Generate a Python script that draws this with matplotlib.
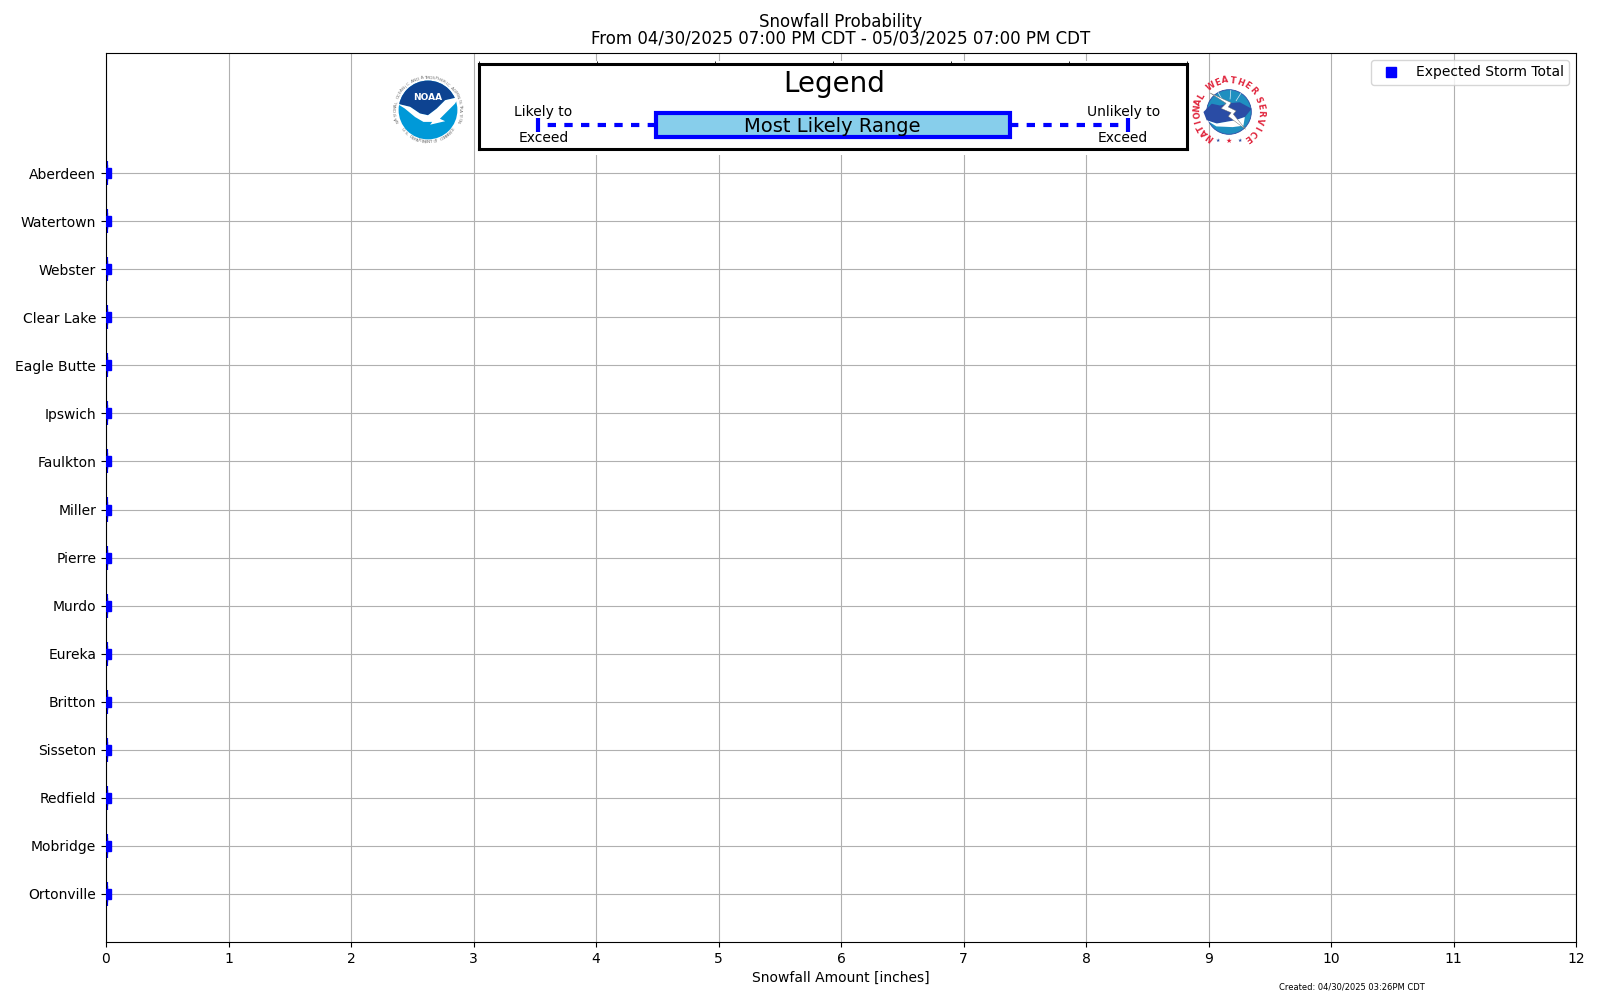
import numpy as np
import matplotlib
matplotlib.use("Agg")
import matplotlib.pyplot as plt
from matplotlib.patches import Circle, Rectangle, Polygon

# sites, bottom of the chart first
sites = ["Ortonville", "Mobridge", "Redfield", "Sisseton", "Britton", "Eureka",
         "Murdo", "Pierre", "Miller", "Faulkton", "Ipswich", "Eagle Butte",
         "Clear Lake", "Webster", "Watertown", "Aberdeen"]
# all forecast percentiles are zero for this event
low_exceed = [0.0] * 16
q_low = [0.0] * 16
expected = [0.0] * 16
q_high = [0.0] * 16
high_exceed = [0.0] * 16
x_ticks = list(range(13))

BLUE = "#0000ff"
SKY = "#87ceeb"
RED = "#e0243c"

W, H = 1600, 1000


def fig_axes(x0, y0, x1, y1, **kw):
    # pixel box (from top left) to a figure axes
    return fig.add_axes([x0 / W, 1 - y1 / H, (x1 - x0) / W, (y1 - y0) / H], **kw)


def ring_text(a, text, radius, start, stop, turn=-90, **kw):
    # letters placed one by one round a circle
    for ch, ang in zip(text, np.linspace(start, stop, len(text))):
        a.text(radius * np.cos(np.radians(ang)), radius * np.sin(np.radians(ang)), ch,
               rotation=ang + turn, ha="center", va="center", **kw)


fig = plt.figure(figsize=(16, 10), dpi=100)
ax = fig_axes(106, 53, 1576, 942)

pos = np.arange(1, len(sites) + 1)
stats = [dict(med=e, q1=a, q3=b, whislo=l, whishi=h, fliers=[], label=s)
         for e, a, b, l, h, s in zip(expected, q_low, q_high, low_exceed, high_exceed, sites)]
ax.bxp(stats, positions=pos, orientation="horizontal", widths=0.5, showfliers=False,
       patch_artist=True, showcaps=True,
       boxprops=dict(facecolor=SKY, edgecolor=BLUE, linewidth=3),
       medianprops=dict(color=BLUE, linewidth=0),
       whiskerprops=dict(color=BLUE, linewidth=3, linestyle="--"),
       capprops=dict(color=BLUE, linewidth=3))
ax.plot(expected, pos, ls="none", marker="s", ms=7.5, color=BLUE, label="Expected Storm Total", zorder=5)

ax.set_xlim(0, 12)
ax.set_ylim(0, 18.5)
ax.set_xticks(x_ticks)
ax.set_xticklabels([str(t) for t in x_ticks])
ax.set_yticks(pos)
ax.set_yticklabels(sites)
ax.grid(True, color="#b0b0b0", lw=0.8)
ax.set_axisbelow(True)
ax.tick_params(labelsize=10)
ax.set_xlabel("Snowfall Amount [inches]", fontsize=10)
ax.set_title("Snowfall Probability\nFrom 04/30/2025 07:00 PM CDT - 05/03/2025 07:00 PM CDT",
             fontsize=12, linespacing=0.93, pad=6.5)
handles, labels = ax.get_legend_handles_labels()
ax.legend(handles[-1:], labels[-1:], loc="upper right", fontsize=10)

fig.text(1352 / W, 1 - 987 / H, "Created: 04/30/2025 03:26PM CDT", fontsize=6, ha="center", va="center")

# white panel that hides the gridlines behind the legend key
fig.add_artist(Rectangle((479 / W, 1 - 155 / H), 708 / W, 94 / H, transform=fig.transFigure,
                         facecolor="white", edgecolor="none", zorder=3))

key = fig_axes(479, 64, 1187, 149, zorder=4)
key.set_xlim(0, 6)
key.set_ylim(0, 1)
key.set_yticks([])
key.set_xticks(range(7))
key.tick_params(axis="x", top=True, bottom=False, labelbottom=False, length=2.5, width=0.6, pad=0)
for s in key.spines.values():
    s.set_linewidth(2.2)
key.text(3.01, 0.77, "Legend", fontsize=20, ha="center", va="center")
key.add_patch(Rectangle((1.5, 0.14), 3.0, 0.28, facecolor=SKY, edgecolor=BLUE, lw=3, zorder=3))
key.text(2.99, 0.265, "Most Likely Range", fontsize=14, ha="center", va="center", zorder=4)
key.plot([1.5, 0.5], [0.28, 0.28], color=BLUE, lw=3, ls=(0, (2, 2)))
key.plot([4.5, 5.5], [0.28, 0.28], color=BLUE, lw=3, ls=(0, (2, 2)))
key.plot([0.5, 0.5], [0.2, 0.365], color=BLUE, lw=3, solid_capstyle="butt")
key.plot([5.5, 5.5], [0.2, 0.365], color=BLUE, lw=3, solid_capstyle="butt")
key.text(0.546, 0.43, "Likely to", fontsize=10, ha="center", va="center")
key.text(0.546, 0.13, "Exceed", fontsize=10, ha="center", va="center")
key.text(5.46, 0.43, "Unlikely to", fontsize=10, ha="center", va="center")
key.text(5.455, 0.13, "Exceed", fontsize=10, ha="center", va="center")

# NOAA logo
noaa = fig_axes(393, 75, 463, 145, zorder=4)
noaa.set_xlim(-1, 1)
noaa.set_ylim(-1, 1)
noaa.axis("off")
ring_text(noaa, "NATIONAL OCEANIC AND ATMOSPHERIC ADMINISTRATION", 0.92, 200, -20,
          color="#777777", fontsize=3.2)
ring_text(noaa, "U.S. DEPARTMENT OF COMMERCE", 0.92, 217, 323, turn=90, color="#777777", fontsize=3.2)
disc = Circle((0, 0), 0.84, facecolor="#0099d8", edgecolor="none")
noaa.add_patch(disc)
navy = Polygon([(-0.9, 0.9), (0.9, 0.9), (0.9, 0.37), (0.49, 0.28), (0.25, 0.04), (0, -0.15), (-0.23, -0.1),
                (-0.51, 0.09), (-0.9, 0.18)], facecolor="#0d4391", edgecolor="none")
noaa.add_patch(navy)
navy.set_clip_path(disc)
wing = Polygon([(-0.88, 0.18), (-0.51, 0.09), (-0.23, -0.1), (0, -0.15), (0.25, 0.04), (0.49, 0.28), (0.88, 0.37),
                (0.77, 0.18), (0.58, -0.01), (0.34, -0.25), (0.49, -0.32), (0.06, -0.42), (0.12, -0.34),
                (-0.13, -0.34), (-0.37, -0.2), (-0.66, 0.04)], facecolor="white", edgecolor="none")
noaa.add_patch(wing)
noaa.text(0, 0.36, "NOAA", color="white", fontsize=6.5, fontweight="bold", ha="center", va="center")

# NWS logo
nws = fig_axes(1193, 76, 1265, 148, zorder=4)
nws.set_xlim(-1, 1)
nws.set_ylim(-1, 1)
nws.axis("off")
dome = Circle((0, 0), 0.62, facecolor="#1f8fc0", edgecolor="#2a4ca5", lw=0.6)
nws.add_patch(dome)
for x_end, y_end in zip([-0.3, 0.05, 0.33], [0.54, 0.6, 0.52]):
    nws.plot([x_end * 0.6, x_end], [y_end * 0.6, y_end], color="#dfeef6", lw=0.5)
nws.add_patch(Polygon([(-0.71, 0.0), (-0.48, 0.23), (-0.25, 0.18), (0.05, 0.25), (0.3, 0.27), (0.63, 0.09),
                       (0.44, -0.14), (0.17, -0.23), (-0.34, -0.32), (-0.62, -0.23)],
                      facecolor="#2a4ca5", edgecolor="none", zorder=3))
snow = Polygon([(-0.62, -0.23), (-0.34, -0.32), (0.17, -0.23), (0.44, -0.14), (0.4, -0.38), (0.1, -0.42), (-0.35, -0.4)],
               facecolor="white", edgecolor="none", zorder=3)
nws.add_patch(snow)
nws.add_patch(Polygon([(-0.53, 0.53), (-0.08, 0.24), (-0.22, 0.1), (0.06, -0.02), (-0.02, -0.12), (0.46, -0.48),
                       (0.12, -0.06), (0.2, 0.03), (-0.02, 0.14), (0.06, 0.26)],
                      facecolor="white", edgecolor="#666666", lw=0.3, zorder=4))
red_text = dict(color=RED, fontsize=6, fontweight="bold")
ring_text(nws, "NATIONAL", 0.88, 232, 150, **red_text)
ring_text(nws, "WEATHER", 0.88, 125, 41, **red_text)
ring_text(nws, "SERVICE", 0.88, 23, -54, **red_text)
for star_x, star_col, star_size in zip([-0.3, 0.0, 0.3], ["#2a4ca5", RED, "#2a4ca5"], [3.5, 5, 3.5]):
    nws.text(star_x, -0.8, "★", color=star_col, fontsize=star_size, ha="center", va="center")

fig.savefig("out.png", dpi=100)
